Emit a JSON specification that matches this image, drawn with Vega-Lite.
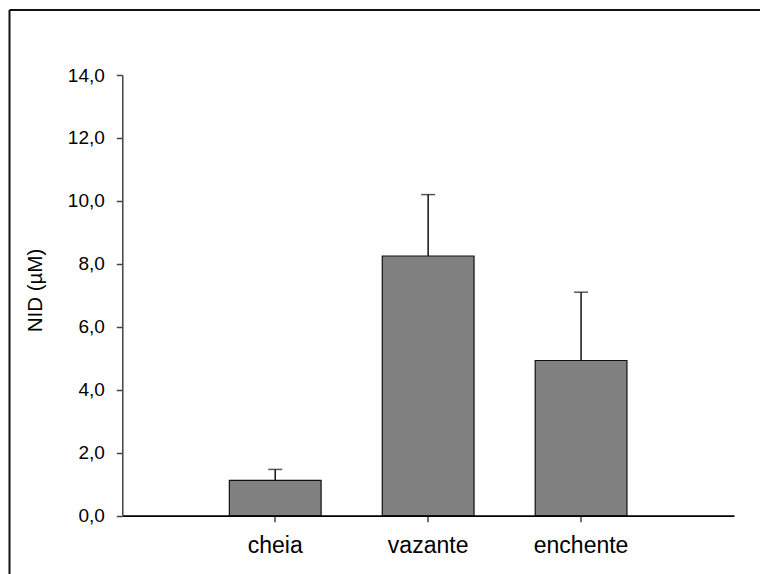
{
  "$schema": "https://vega.github.io/schema/vega-lite/v6.json",
  "width": 750.5,
  "height": 564,
  "autosize": {"type": "none"},
  "padding": {"left": 9.5, "top": 10, "right": 0, "bottom": 0},
  "background": "white",
  "config": {
    "view": {"stroke": "#111111", "strokeWidth": 2, "strokeDash": [750.5, 1314.5, 564, 0]},
    "font": "Liberation Sans"
  },
  "data": {
    "values": [
      {"season": "cheia", "mean": 1.12, "upper": 1.47},
      {"season": "vazante", "mean": 8.25, "upper": 10.2},
      {"season": "enchente", "mean": 4.93, "upper": 7.1}
    ]
  },
  "encoding": {
    "x": {
      "field": "season",
      "type": "nominal",
      "sort": ["cheia", "vazante", "enchente"],
      "scale": {"range": [112.8, 724.5], "paddingInner": 0.4, "paddingOuter": 0.7},
      "axis": {
        "title": null,
        "offset": -58.3,
        "labelAngle": 0,
        "labelFontSize": 23,
        "labelColor": "#000000",
        "labelPadding": 13,
        "tickSize": 6,
        "tickColor": "#444444",
        "tickWidth": 1.5,
        "domainColor": "#000000",
        "domainWidth": 1.8
      }
    }
  },
  "layer": [
    {
      "mark": {"type": "bar", "color": "#808080", "stroke": "#111111", "strokeWidth": 1.2},
      "encoding": {
        "y": {
          "field": "mean",
          "type": "quantitative",
          "scale": {"domain": [0, 14], "nice": false, "range": [505.7, 65]},
          "axis": {
            "title": "NID (µM)",
            "offset": -112.8,
            "values": [0, 2, 4, 6, 8, 10, 12, 14],
            "labelExpr": "replace(format(datum.value, '.1f'), '.', ',')",
            "labelFontSize": 19,
            "labelColor": "#000000",
            "labelPadding": 12,
            "tickSize": 6,
            "tickColor": "#444444",
            "tickWidth": 1.5,
            "domainColor": "#444444",
            "domainWidth": 1.5,
            "grid": false,
            "titleFontSize": 20.5,
            "titleFontWeight": "normal",
            "titleColor": "#000000",
            "titleX": -87,
            "titleY": 280,
            "titleAngle": -90,
            "titleAlign": "center",
            "titleBaseline": "middle"
          }
        }
      }
    },
    {
      "mark": {"type": "rule", "color": "#111111", "strokeWidth": 1.5},
      "encoding": {
        "y": {"field": "mean", "type": "quantitative"},
        "y2": {"field": "upper"}
      }
    },
    {
      "mark": {"type": "tick", "orient": "horizontal", "color": "#111111", "size": 14, "thickness": 1.5},
      "encoding": {
        "y": {"field": "upper", "type": "quantitative"}
      }
    }
  ]
}
